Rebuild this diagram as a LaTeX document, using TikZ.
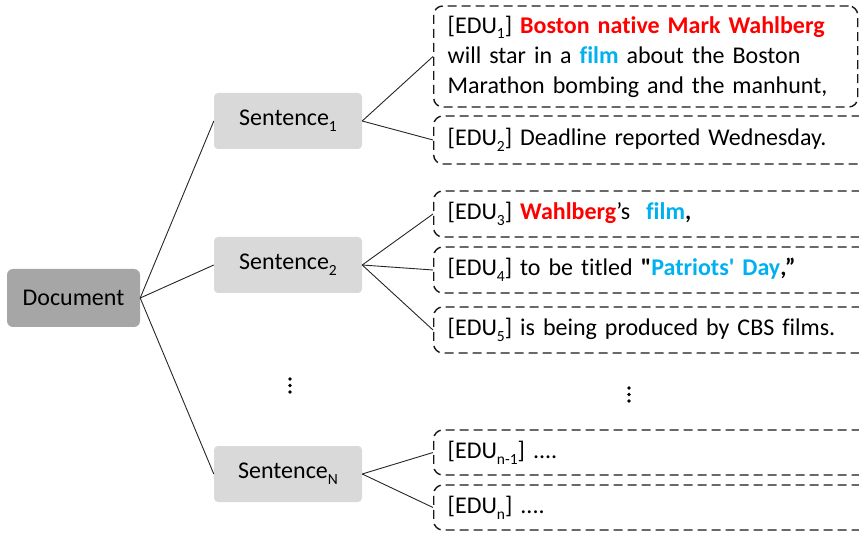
\documentclass[tikz,border=0pt]{standalone}
\usepackage{fontspec}
\setmainfont{Carlito}[Ligatures={NoCommon,TeXOff}]
\usetikzlibrary{positioning}

\definecolor{docgray}{RGB}{166,166,166}
\definecolor{sentgray}{RGB}{217,217,217}
\definecolor{hlred}{RGB}{255,0,0}
\definecolor{hlblue}{RGB}{0,176,240}

% lowered index in the style of the body font
\newcommand{\lowidx}[1]{\raisebox{-0.24em}{\fontsize{15.5}{15.5}\selectfont #1}}
\newcommand{\hred}[1]{\textcolor{hlred}{\textbf{#1}}}
\newcommand{\hblue}[1]{\textcolor{hlblue}{\textbf{#1}}}

\tikzset{
  docbox/.style={rectangle, rounded corners=6pt, fill=docgray,
    minimum width=133pt, minimum height=58pt, inner sep=0pt},
  sentbox/.style={rectangle, rounded corners=4pt, fill=sentgray,
    minimum width=148pt, minimum height=56pt, inner sep=0pt},
  edubox/.style={rectangle, rounded corners=9pt, draw=black!90,
    line width=1.4pt, dash pattern=on 9pt off 5pt,
    anchor=west, inner xsep=14pt, inner ysep=0pt, align=left},
  link/.style={draw=black!85, line width=0.9pt},
  vdot/.style={fill=black, draw=none}
}

\begin{document}
\begin{tikzpicture}[x=1pt, y=-1pt, font=\fontsize{24}{30}\selectfont]
\useasboundingbox (0,0) rectangle (859,534);
\clip (0,0) rectangle (859,534);

% document and sentence level
\node[docbox] (doc) at (73.5,298) {Document};
\node[sentbox] (s1) at (288,121) {Sentence\lowidx{1}};
\node[sentbox] (s2) at (288,265) {Sentence\lowidx{2}};
\node[sentbox] (sN) at (288,474) {Sentence\lowidx{N}};

% EDU level
\node[edubox, minimum width=424pt, minimum height=101pt, text width=396pt] (e1) at (433,56.5)
  {[EDU\lowidx{1}] \hred{Boston native Mark Wahlberg}\\
   will star in a \hblue{film} about the Boston\\
   Marathon bombing and the manhunt,};
\node[edubox, minimum width=450pt, minimum height=48pt, text width=422pt] (e2) at (433,140)
  {[EDU\lowidx{2}] Deadline reported Wednesday.};
\node[edubox, minimum width=450pt, minimum height=46pt, text width=422pt] (e3) at (433,214)
  {[EDU\lowidx{3}] \hred{Wahlberg}’s\ \ \hblue{film}\textbf{,}};
\node[edubox, minimum width=450pt, minimum height=46pt, text width=422pt] (e4) at (433,270)
  {[EDU\lowidx{4}] to be titled \textbf{"}\hblue{Patriots' Day}\textbf{,”}};
\node[edubox, minimum width=450pt, minimum height=46pt, text width=422pt] (e5) at (433,330)
  {[EDU\lowidx{5}] is being produced by CBS films.};
\node[edubox, minimum width=450pt, minimum height=45pt, text width=422pt] (en1) at (433,452.5)
  {[EDU\lowidx{n-1}] ....};
\node[edubox, minimum width=450pt, minimum height=45pt, text width=422pt] (en) at (433,507.5)
  {[EDU\lowidx{n}] ....};

% connectors
\draw[link] (doc.east) -- (s1.west);
\draw[link] (doc.east) -- (s2.west);
\draw[link] (doc.east) -- (sN.west);
\draw[link] (s1.east) -- (e1.west);
\draw[link] (s1.east) -- (e2.west);
\draw[link] (s2.east) -- (e3.west);
\draw[link] (s2.east) -- (e4.west);
\draw[link] (s2.east) -- (e5.west);
\draw[link] (sN.east) -- (en1.west);
\draw[link] (sN.east) -- (en.west);

% vertical ellipses
\foreach \yy in {379,385.5,392} \fill[vdot] (290,\yy) circle (1.9pt);
\foreach \yy in {388,394.5,401} \fill[vdot] (629,\yy) circle (1.9pt);
\end{tikzpicture}
\end{document}
